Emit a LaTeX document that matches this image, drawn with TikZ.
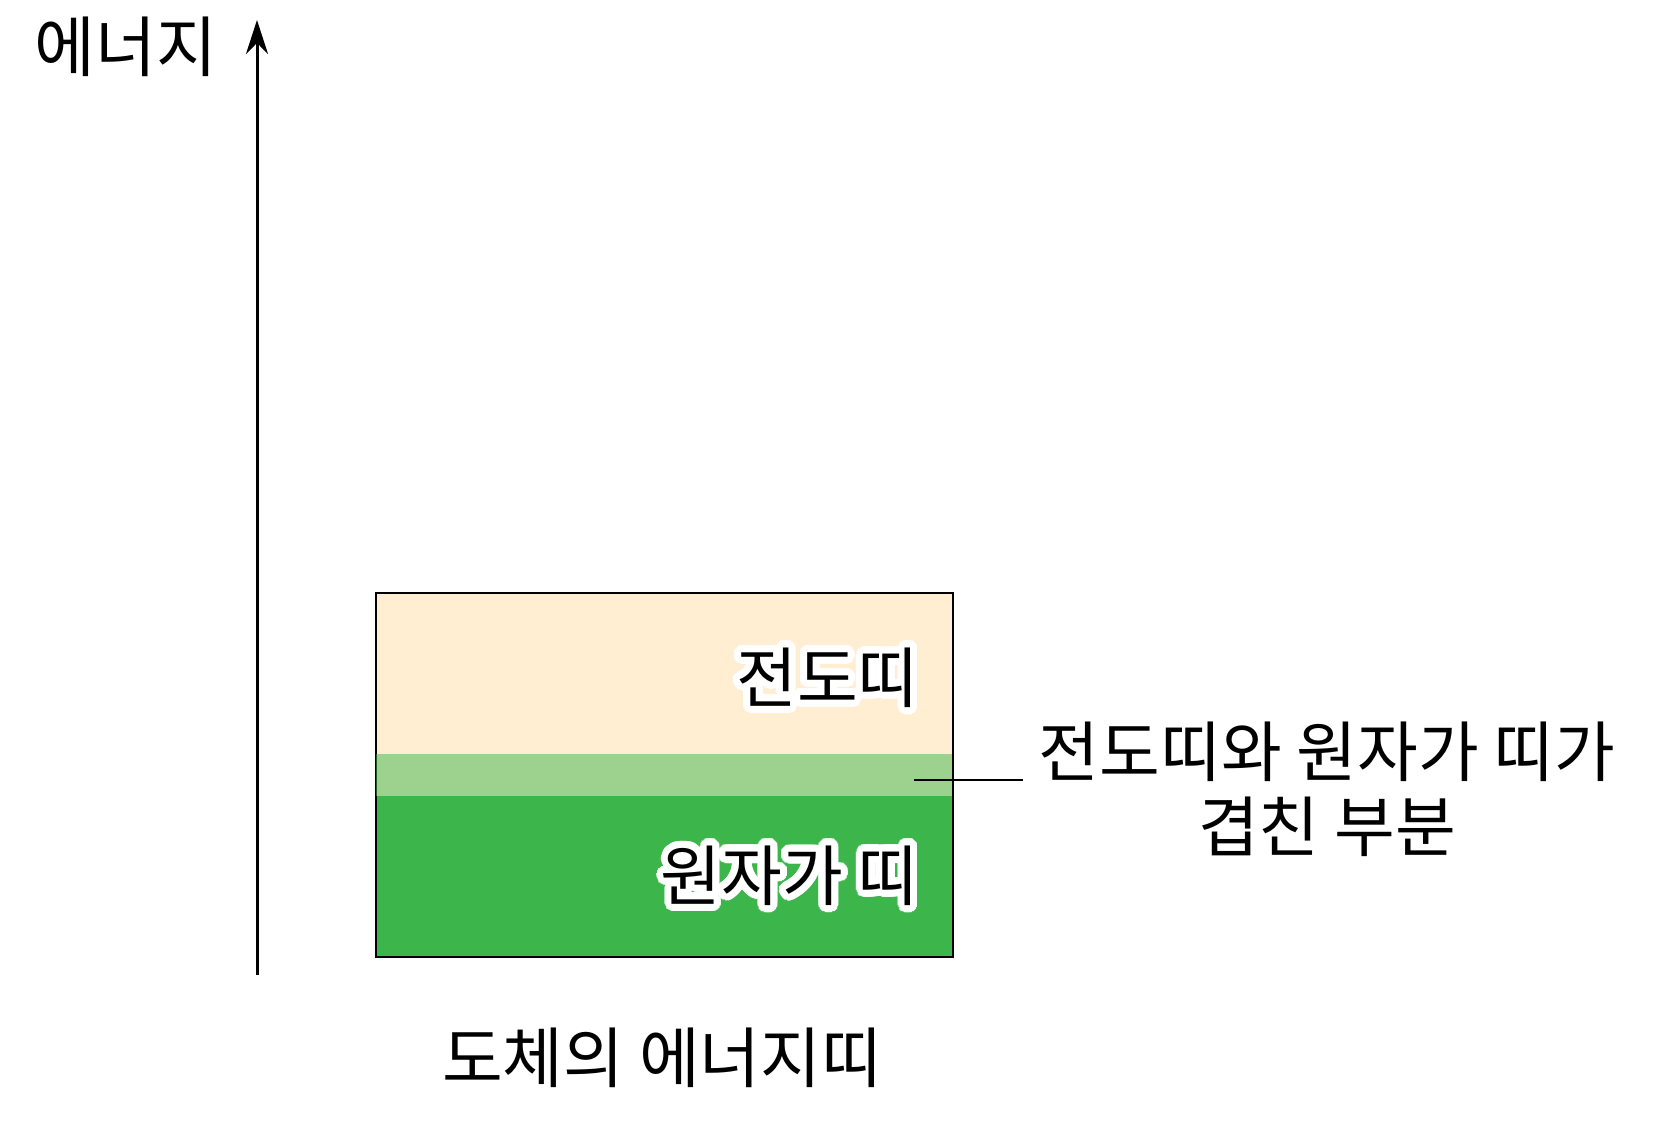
\documentclass[tikz,border=0pt]{standalone}
\usepackage{fontspec}
\setmainfont{Noto Sans CJK KR}
\usepackage[copies]{contour}
\usetikzlibrary{arrows.meta}

\definecolor{cbandcolor}{HTML}{FFEED2}
\definecolor{vbandcolor}{HTML}{3CB54B}
\contourlength{3.5pt}
\contournumber{32}

\tikzstyle{band} = [rectangle, minimum width=288pt, inner sep=0pt, anchor=north west]
\tikzstyle{bandlabel} = [anchor=east, inner sep=0pt, font=\fontsize{33}{38}\selectfont]
\tikzstyle{plaintext} = [font=\fontsize{33}{37.5}\selectfont, align=center]
\tikzstyle{arrow} = [line width=1.5pt, -{Stealth[length=17pt, width=11pt]}]

\begin{document}
\begin{tikzpicture}[x=0.5pt, y=-0.5pt]
        \useasboundingbox (0,0) rectangle (1654,1121);

        % energy axis
        \coordinate (axisbot) at (257,975);
        \coordinate (axistop) at (257,20);
        \draw [arrow] (axisbot) -- (axistop);
        \node (energy) [plaintext] at (126,47) {에너지};

        % bands
        \node (cband) [band, fill=cbandcolor, minimum height=101.5pt] at (376,593) {};
        \node (vband) [band, fill=vbandcolor, minimum height=80pt] at (376,796) {};
        \draw [line width=1.2pt] (cband.north west) rectangle (vband.south east);
        \node (overlap) [band, fill=vbandcolor, fill opacity=0.5, minimum height=21pt] at (376,754) {};

        \node (cbandlabel) [bandlabel] at (919,681) {\contour{white}{전도띠}};
        \node (vbandlabel) [bandlabel] at (919,879) {\contour{white}{원자가 띠}};

        % overlap label
        \node (overlaptext) [plaintext] at (1327,789) {전도띠와 원자가 띠가\\겹친 부분};
        \coordinate (overlappt) at (914,780);
        \coordinate (overlapend) at (1023,780);
        \draw [line width=1pt] (overlappt) -- (overlapend);

        \node (caption) [plaintext] at (662,1058) {도체의 에너지띠};
    \end{tikzpicture}
\end{document}
